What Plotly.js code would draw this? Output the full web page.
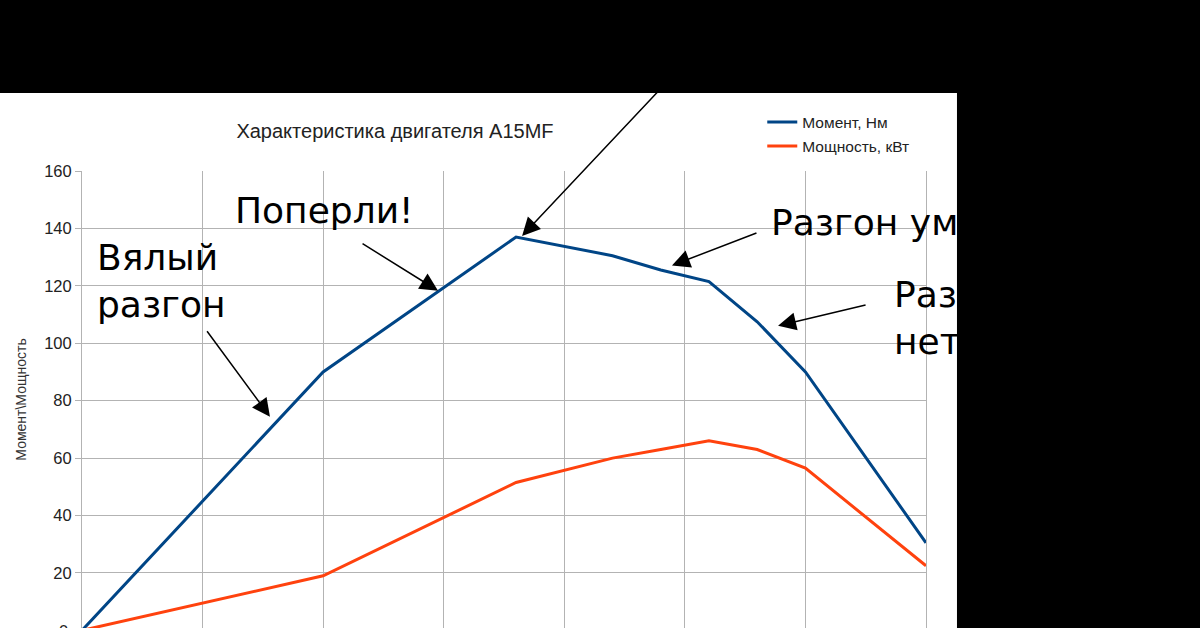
<!DOCTYPE html>
<html>
<head>
<meta charset="utf-8">
<script src="https://cdn.plot.ly/plotly-3.0.1.min.js"></script>
<style>
  html, body { margin: 0; padding: 0; background: #000; }
  #chart { width: 1200px; height: 628px; }
</style>
</head>
<body>
<div id="chart"></div>
<script>
// обороты двигателя, об/мин
var oboroty = [0, 2000, 3600, 4400, 4800, 5200, 5600, 6000, 7000];
// момент, Нм
var moment = [0, 90, 137, 130.5, 125.5, 121.5, 107.5, 90, 30.5];
// мощность, кВт
var moshchnost = [0, 19, 51.5, 60, 63, 66, 63, 56.5, 22.5];

var nazvaniya = ['Момент, Нм', 'Мощность, кВт'];
var yTiki = [20, 40, 60, 80, 100, 120, 140, 160];

var SINIY = '#004586';
var ORANZH = '#ff420e';
var SETKA = '#b3b3b3';

var traces = [
  {
    x: oboroty, y: moment, name: nazvaniya[0], legendgroup: 'a',
    type: 'scatter', mode: 'lines',
    line: {color: SINIY, width: 3}
  },
  {
    x: oboroty, y: moshchnost, name: nazvaniya[1], legendgroup: 'b',
    type: 'scatter', mode: 'lines',
    line: {color: ORANZH, width: 3}
  }
];

// подписи-шутки со стрелками
var big = {family: 'DejaVu Sans', size: 36, color: '#000'};
function tekst(t, x, y) {
  return {text: t, xref: 'paper', yref: 'paper', x: x, y: y,
    xanchor: 'left', yanchor: 'top', align: 'left', showarrow: false, font: big};
}
function strelka(x, y, ax, ay) {
  return {text: '', x: x, y: y, ax: ax, ay: ay, showarrow: true,
    arrowhead: 2, arrowsize: 2.4, arrowwidth: 1.5, arrowcolor: '#000', standoff: 0};
}

var annotations = [
  tekst('Вялый<br>разгон', 0.0154, 0.860),
  tekst('Поперли!', 0.1789, 0.9628),
  tekst('Разгон умеренный', 0.814, 0.9365),
  tekst('Разгона<br>нет', 0.9597, 0.779),
  strelka(1559, 74.4, -64, -87),
  strelka(2953, 118.3, -77, -48),
  strelka(3650, 137.4, 175, -186),
  strelka(4893, 127.1, 86, -33),
  strelka(5773, 106.1, 89, -21),
  // нулевая метка оси Y, срезанная краем картинки (как в оригинале)
  {text: '0', xref: 'paper', yref: 'paper', x: -0.014, y: -0.006,
    xanchor: 'right', yanchor: 'middle', showarrow: false,
    font: {size: 16.5, color: '#222'}}
];

var layout = {
  width: 1200, height: 628,
  margin: {l: 82, r: 274, t: 171, b: 0, pad: 0},
  paper_bgcolor: '#000',
  plot_bgcolor: '#fff',
  font: {family: 'Liberation Sans, Arial, sans-serif', color: '#222'},
  title: {
    text: 'Характеристика двигателя A15MF',
    xref: 'container', yref: 'container',
    x: 395 / 1200, y: 1 - 131 / 628, xanchor: 'center', yanchor: 'middle',
    font: {size: 20, color: '#222'}
  },
  showlegend: true,
  legend: {
    x: 0.806, y: 1.1436, xanchor: 'left', yanchor: 'top',
    bgcolor: 'rgba(0,0,0,0)', font: {size: 15.5, color: '#222'},
    traceorder: 'grouped', tracegroupgap: 1
  },
  xaxis: {
    range: [0, 7000], dtick: 1000, showticklabels: false,
    showgrid: true, gridcolor: SETKA, gridwidth: 1,
    zeroline: false, showline: false, fixedrange: true
  },
  yaxis: {
    range: [0.83, 160], tickvals: yTiki,
    showgrid: true, gridcolor: SETKA, gridwidth: 1,
    zeroline: false, showline: true, mirror: true, linecolor: SETKA,
    ticks: 'outside', ticklen: 6, tickcolor: SETKA,
    tickfont: {size: 16.5, color: '#222'},
    title: {text: 'Момент\\Мощность', font: {size: 14, color: '#333'}, standoff: 14}
  },
  shapes: [
    {type: 'rect', xref: 'paper', yref: 'paper', layer: 'below',
      x0: -0.0972, x1: 1.0367, y0: -0.01, y1: 1.1707,
      fillcolor: '#fff', line: {width: 0}}
  ],
  annotations: annotations
};

Plotly.newPlot('chart', traces, layout, {displayModeBar: false, staticPlot: true});
</script>
</body>
</html>
